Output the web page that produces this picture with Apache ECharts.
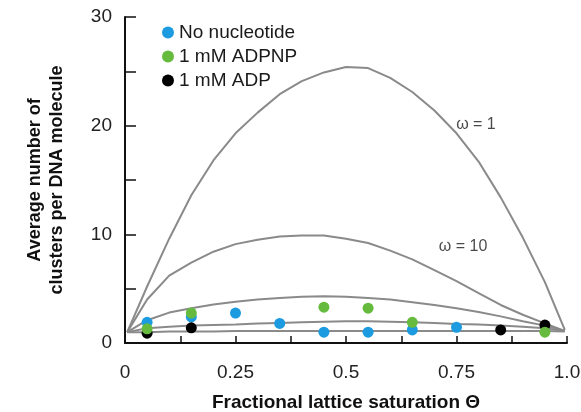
<!DOCTYPE html>
<html>
<head>
<meta charset="utf-8">
<script src="https://cdn.jsdelivr.net/npm/echarts@6/dist/echarts.min.js"></script>
<style>
html,body{margin:0;padding:0;background:#fff;}
#c{width:581px;height:412px;}
</style>
</head>
<body>
<div id="c"></div>
<script>
// Theta grid for simulated curves
var thetaGrid = [0.005, 0.05, 0.1, 0.15, 0.2, 0.25, 0.3, 0.35, 0.4, 0.45, 0.5, 0.55, 0.6, 0.65, 0.7, 0.75, 0.8, 0.85, 0.9, 0.95, 0.995];
var curveOmega1   = [1.0, 5.2, 9.6, 13.6, 16.8, 19.3, 21.2, 22.9, 24.1, 24.9, 25.4, 25.3, 24.4, 23.1, 21.4, 19.3, 16.7, 13.4, 9.7, 5.6, 1.2];
var curveOmega10  = [1.0, 4.0, 6.2, 7.4, 8.4, 9.1, 9.5, 9.8, 9.9, 9.9, 9.6, 9.2, 8.5, 7.7, 6.7, 5.7, 4.6, 3.5, 2.6, 1.8, 1.1];
var curveOmega100 = [1.0, 2.1, 2.8, 3.2, 3.55, 3.8, 4.0, 4.15, 4.25, 4.3, 4.25, 4.15, 4.0, 3.75, 3.5, 3.2, 2.85, 2.45, 2.0, 1.6, 1.1];
var curveOmega1k  = [1.0, 1.35, 1.5, 1.6, 1.65, 1.7, 1.8, 1.85, 1.9, 1.95, 2.0, 2.0, 1.95, 1.9, 1.85, 1.75, 1.7, 1.6, 1.5, 1.35, 1.1];
var curveOmega10k = [1.0, 1.0, 1.05, 1.05, 1.05, 1.1, 1.1, 1.1, 1.1, 1.1, 1.1, 1.1, 1.1, 1.1, 1.1, 1.1, 1.1, 1.1, 1.1, 1.1, 1.05];

// Experimental points
var blueX  = [0.05, 0.15, 0.25, 0.35, 0.45, 0.55, 0.65, 0.75];
var blueY  = [1.9, 2.4, 2.75, 1.8, 1.0, 1.0, 1.2, 1.45];
var greenX = [0.05, 0.15, 0.45, 0.55, 0.65, 0.95];
var greenY = [1.3, 2.75, 3.3, 3.2, 1.9, 1.0];
var blackX = [0.05, 0.15, 0.85, 0.95];
var blackY = [0.9, 1.4, 1.2, 1.65];

var seriesNames = ['No nucleotide', '1 mM ADPNP', '1 mM ADP'];

// Tick labels
var xTickValues = [0, 0.25, 0.5, 0.75, 1];
var xTickLabels = ['0', '0.25', '0.5', '0.75', '1.0'];
var yTickValues = [0, 10, 20, 30];
var yTickLabels = ['0', '10', '20', '30'];

// Curve annotations
var annotTexts = ['\u03C9 = 1', '\u03C9 = 10'];
var annotX = [0.794, 0.765];
var annotY = [20.1, 8.9];

function zip(xs, ys){ return xs.map(function(x,i){ return [x, ys[i]]; }); }

var FONT = '"Liberation Sans", Arial, Helvetica, sans-serif';
var curveColor = '#8a8a8a';

function curve(ys){
  return {
    type: 'line', data: zip(thetaGrid, ys), showSymbol: false, symbol: 'none',
    smooth: false, lineStyle: {color: curveColor, width: 2}, silent: true, z: 2
  };
}

var chart = echarts.init(document.getElementById('c'), null, {renderer: 'canvas'});
chart.setOption({
  backgroundColor: '#ffffff',
  animation: false,
  textStyle: {fontFamily: FONT},
  grid: {left: 125, right: 14, top: 17, bottom: 69, containLabel: false, outerBoundsMode: 'none'},
  legend: {
    orient: 'vertical', left: 157, top: 18,
    itemWidth: 12, itemHeight: 12, itemGap: 5,
    icon: 'circle',
    data: seriesNames,
    textStyle: {fontSize: 19, color: '#1a1a1a', fontFamily: FONT},
    selectedMode: false
  },
  xAxis: {
    type: 'value', min: 0, max: 1, interval: 0.125,
    name: 'Fractional lattice saturation \u0398',
    nameLocation: 'middle', nameGap: 50,
    nameTextStyle: {fontSize: 19, fontWeight: 'bold', color: '#111', fontFamily: FONT},
    axisLine: {show: true, lineStyle: {color: '#111', width: 2}},
    axisTick: {show: true, inside: true, length: 7, lineStyle: {color: '#111', width: 1.5}},
    splitLine: {show: false},
    axisLabel: {
      fontSize: 19, color: '#222', margin: 20, fontFamily: FONT,
      formatter: function(v){
        for (var i=0;i<xTickValues.length;i++){ if (Math.abs(v-xTickValues[i])<1e-9) return xTickLabels[i]; }
        return '';
      }
    }
  },
  yAxis: {
    type: 'value', min: 0, max: 30, interval: 5,
    name: 'Average number of\nclusters per DNA molecule',
    nameLocation: 'middle', nameGap: 57, nameRotate: 90,
    nameTextStyle: {fontSize: 18, fontWeight: 'bold', color: '#111', lineHeight: 22, fontFamily: FONT, align: 'center'},
    axisLine: {show: true, lineStyle: {color: '#111', width: 2}},
    axisTick: {show: true, inside: true, length: 11, lineStyle: {color: '#111', width: 1.5}},
    splitLine: {show: false},
    axisLabel: {
      fontSize: 19, color: '#222', margin: 13, fontFamily: FONT,
      formatter: function(v){
        for (var i=0;i<yTickValues.length;i++){ if (Math.abs(v-yTickValues[i])<1e-9) return yTickLabels[i]; }
        return '';
      }
    }
  },
  series: [
    curve(curveOmega1), curve(curveOmega10), curve(curveOmega100), curve(curveOmega1k), curve(curveOmega10k),
    {
      type: 'scatter', data: zip(annotX, annotY).map(function(p,i){ return {value: p, label: {formatter: annotTexts[i]}}; }),
      symbolSize: 0, silent: true, z: 3,
      label: {show: true, position: 'inside', fontSize: 16, color: '#1a1a1a', fontFamily: FONT}
    },
    {name: seriesNames[0], type: 'scatter', data: zip(blueX, blueY), symbol: 'circle', symbolSize: 11,
      itemStyle: {color: '#1c9be0', opacity: 1}, z: 5},
    {name: seriesNames[2], type: 'scatter', data: zip(blackX, blackY), symbol: 'circle', symbolSize: 11,
      itemStyle: {color: '#000000', opacity: 1}, z: 5},
    {name: seriesNames[1], type: 'scatter', data: zip(greenX, greenY), symbol: 'circle', symbolSize: 11,
      itemStyle: {color: '#66bb3e', opacity: 1}, z: 5}
  ]
});
</script>
</body>
</html>
